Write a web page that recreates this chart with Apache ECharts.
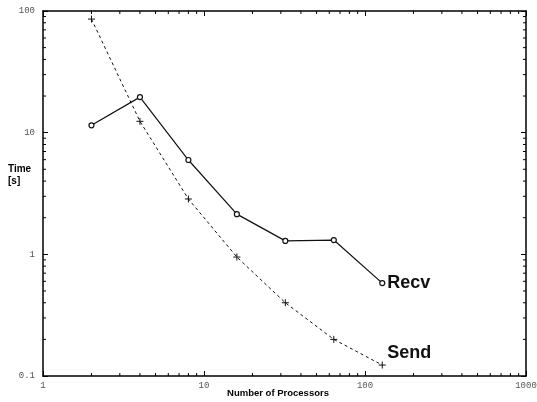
<!DOCTYPE html>
<html><head><meta charset="utf-8">
<script src="https://cdn.jsdelivr.net/npm/echarts@6/dist/echarts.min.js"></script>
<style>html,body{margin:0;padding:0;background:#fff;overflow:hidden}#c{width:537px;height:402px}</style>
</head><body><div id="c"></div>
<script>
var processors = [2, 4, 8, 16, 32, 64, 128];
var recvTime = [11.5, 19.6, 5.96, 2.14, 1.29, 1.31, 0.58];
var sendTime = [85.8, 12.4, 2.85, 0.95, 0.40, 0.20, 0.123];
var xMinorTicks = [2,3,4,5,6,7,8,9,20,30,40,50,60,70,80,90,200,300,400,500,600,700,800,900];
var yMinorTicks = [0.2,0.3,0.4,0.5,0.6,0.7,0.8,0.9,2,3,4,5,6,7,8,9,20,30,40,50,60,70,80,90];

var chart = echarts.init(document.getElementById('c'), null, {renderer: 'canvas'});
var tickFont = {fontFamily: 'Liberation Mono', fontSize: 9, color: '#555'};
var lineStyleAxis = {color: '#000', width: 1.5};
function fmt(v) { return String(+v.toPrecision(6)); }
function pairs(a, b) { return a.map(function (v, i) { return [v, b[i]]; }); }

chart.setOption({
  animation: false,
  backgroundColor: '#fff',
  grid: {left: 43, right: 11, top: 11, bottom: 26, containLabel: false, outerBoundsMode: 'none'},
  xAxis: [{
    type: 'log', logBase: 10, min: 1, max: 1000,
    axisLine: {show: true, lineStyle: lineStyleAxis},
    axisTick: {show: true, inside: true, length: 5, lineStyle: {color: '#000'}},
    axisLabel: Object.assign({margin: 5, formatter: fmt, hideOverlap: false}, tickFont),
    splitLine: {show: false},
    name: 'Number of Processors', nameLocation: 'middle', nameGap: 12, nameMoveOverlap: false,
    nameTextStyle: {fontFamily: 'Liberation Sans', fontWeight: 'bold', fontSize: 9.5, color: '#000', padding: [0, 13, 0, 0]}
  }, {
    type: 'log', logBase: 10, min: 1, max: 1000, position: 'top',
    axisLine: {show: true, lineStyle: lineStyleAxis},
    axisTick: {show: true, inside: true, length: 5, lineStyle: {color: '#000'}},
    axisLabel: {show: false}, splitLine: {show: false}
  }],
  yAxis: [{
    type: 'log', logBase: 10, min: 0.1, max: 100,
    axisLine: {show: true, lineStyle: lineStyleAxis},
    axisTick: {show: true, inside: true, length: 5, lineStyle: {color: '#000'}},
    axisLabel: Object.assign({margin: 8, formatter: fmt}, tickFont),
    splitLine: {show: false}
  }, {
    type: 'log', logBase: 10, min: 0.1, max: 100, position: 'right',
    axisLine: {show: true, lineStyle: lineStyleAxis},
    axisTick: {show: true, inside: true, length: 5, lineStyle: {color: '#000'}},
    axisLabel: {show: false}, splitLine: {show: false}
  }],
  graphic: [{
    type: 'text', left: 8, top: 163,
    style: {text: 'Time\n[s]', font: 'bold 10px "Liberation Sans"', fill: '#000', lineHeight: 12}
  }],
  series: [{
    name: 'Recv', type: 'line', data: pairs(processors, recvTime),
    symbol: 'circle', symbolSize: 5, showAllSymbol: true,
    lineStyle: {color: '#111', width: 1.2},
    itemStyle: {color: '#fff', borderColor: '#111', borderWidth: 1.2},
    endLabel: {show: true, formatter: '{a}', offset: [-3, 0], color: '#111',
      fontFamily: 'Liberation Sans', fontWeight: 'bold', fontSize: 18}
  }, {
    name: 'Send', type: 'line', data: pairs(processors, sendTime),
    symbol: 'path://M0,5L10,5M5,0L5,10', symbolSize: 7, showAllSymbol: true,
    lineStyle: {color: '#111', width: 1, type: [3, 3]},
    itemStyle: {color: 'none', borderColor: '#111', borderWidth: 1},
    endLabel: {show: true, formatter: '{a}', offset: [-3, -12], color: '#111',
      fontFamily: 'Liberation Sans', fontWeight: 'bold', fontSize: 18}
  }, {
    type: 'custom', silent: true, clip: false,
    data: xMinorTicks.map(function (v) { return [v, 1]; }),
    renderItem: function (params, api) {
      var v = api.value(0);
      var b = api.coord([v, 0.1]);
      var t = api.coord([v, 100]);
      return {type: 'group', children: [
        {type: 'line', shape: {x1: b[0], y1: b[1], x2: b[0], y2: b[1] - 3}, style: {stroke: '#000', lineWidth: 1}},
        {type: 'line', shape: {x1: t[0], y1: t[1], x2: t[0], y2: t[1] + 3}, style: {stroke: '#000', lineWidth: 1}}
      ]};
    }
  }, {
    type: 'custom', silent: true, clip: false,
    data: yMinorTicks.map(function (v) { return [1, v]; }),
    renderItem: function (params, api) {
      var v = api.value(1);
      var l = api.coord([1, v]);
      var r = api.coord([1000, v]);
      return {type: 'group', children: [
        {type: 'line', shape: {x1: l[0], y1: l[1], x2: l[0] + 3, y2: l[1]}, style: {stroke: '#000', lineWidth: 1}},
        {type: 'line', shape: {x1: r[0], y1: r[1], x2: r[0] - 3, y2: r[1]}, style: {stroke: '#000', lineWidth: 1}}
      ]};
    }
  }]
});
</script></body></html>
